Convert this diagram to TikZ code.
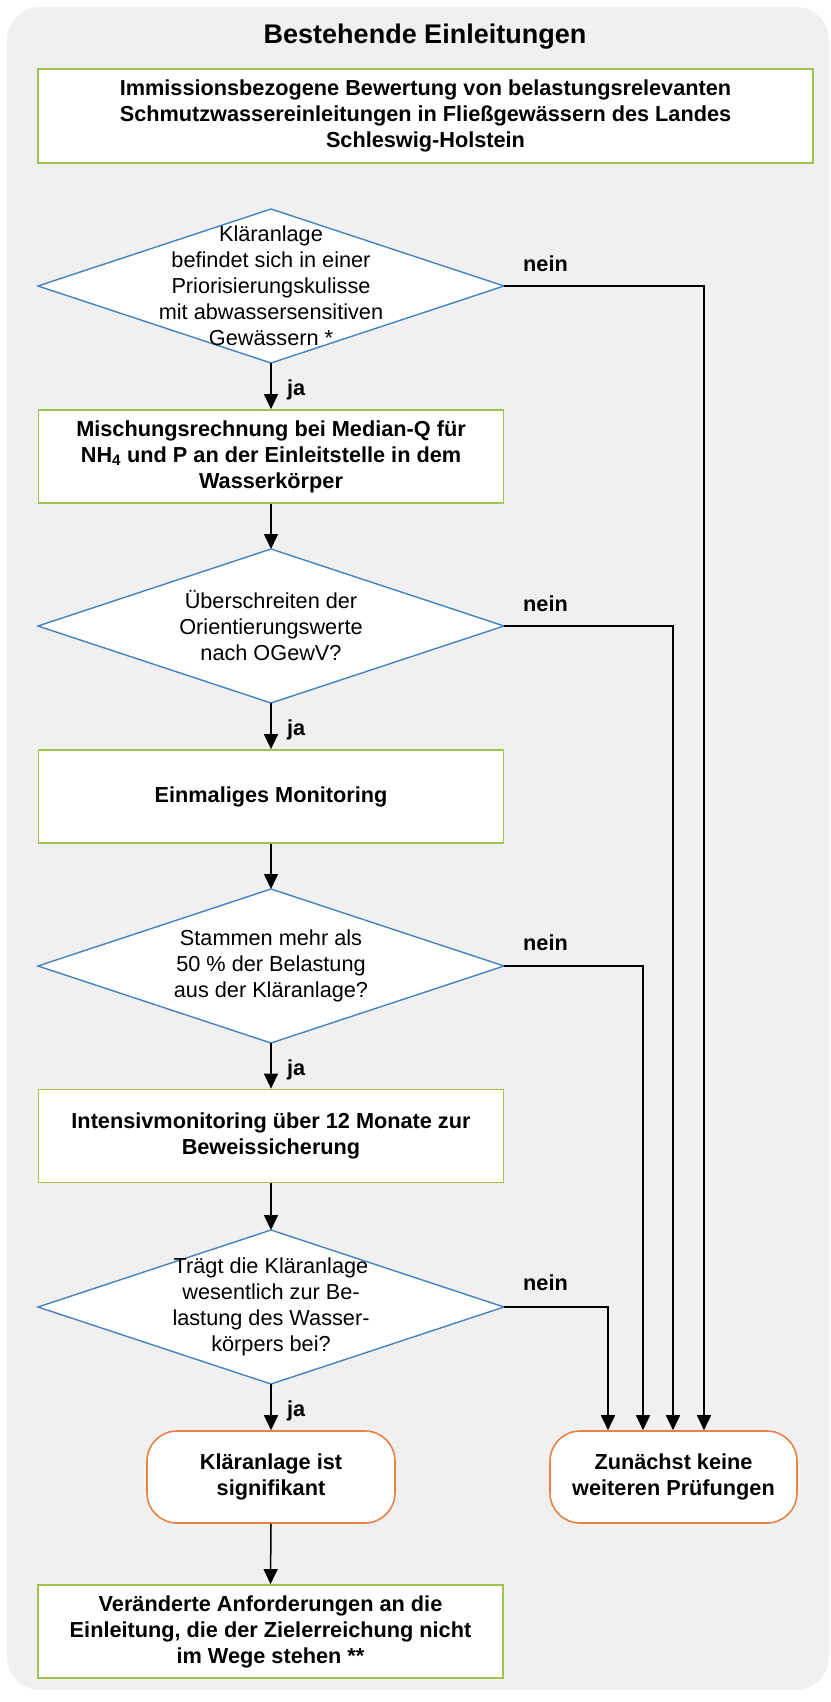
\documentclass[tikz,border=0pt]{standalone}
\usepackage{fontspec}
\setmainfont{Liberation Sans}
\usetikzlibrary{shapes.geometric,arrows.meta,calc}
\definecolor{bggray}{RGB}{240,240,240}
\definecolor{boxgreen}{RGB}{160,195,80}
\definecolor{diablue}{RGB}{70,130,190}
\definecolor{termorange}{RGB}{230,130,70}
\tikzset{
  txt/.style={font=\fontsize{21.7}{26}\selectfont},
  btxt/.style={font=\bfseries\fontsize{21.7}{26}\selectfont},
  greenbox/.style={draw=boxgreen, line width=1.8pt, fill=white, minimum width=465pt, minimum height=93pt, inner sep=0pt, align=center, btxt},
  dia/.style={diamond, draw=diablue, line width=1.4pt, fill=white, minimum width=466pt, minimum height=154pt, inner sep=0pt, outer sep=0pt},
  diatext/.style={align=center, inner sep=0pt, txt},
  term/.style={rounded corners=30pt, draw=termorange, line width=1.6pt, fill=white, minimum width=248pt, minimum height=92pt, inner sep=0pt, align=center, btxt},
  arr/.style={-{Triangle[length=15pt,width=14pt]}, line width=1.5pt, draw=black},
  lbl/.style={anchor=base west, inner sep=0pt, btxt}
}
\begin{document}
\begin{tikzpicture}[x=1pt,y=-1pt]
\useasboundingbox (0,0) rectangle (830,1702);
\fill[bggray, rounded corners=33pt] (7,7) rectangle (829,1690);

\node[anchor=base, inner sep=0pt, font=\bfseries\fontsize{27}{32}\selectfont] (title) at (425,44) {Bestehende Einleitungen};

\node[greenbox, minimum width=775pt, minimum height=94pt] (b1) at (425.5,116) {Immissionsbezogene Bewertung von belastungsrelevanten\\Schmutzwassereinleitungen in Fließgewässern des Landes\\Schleswig-Holstein};

\node[dia] (d1) at (271,286) {};
\node[diatext] (d1t) at (271,286) {Kläranlage\\befindet sich in einer\\Priorisierungskulisse\\mit abwassersensitiven\\Gewässern *};

\node[greenbox] (b2) at (271,456.5) {Mischungsrechnung bei Median-Q für\\NH\textsubscript{4} und P an der Einleitstelle in dem\\Wasserkörper};

\node[dia] (d2) at (271,626) {};
\node[diatext] (d2t) at (271,626) {Überschreiten der\\Orientierungswerte\\nach OGewV?};

\node[greenbox] (b3) at (271,796.5) {Einmaliges Monitoring};

\node[dia] (d3) at (271,966) {};
\node[diatext] (d3t) at (271,966) {Stammen mehr als\\50 \% der Belastung\\aus der Kläranlage?};

\node[greenbox] (b4) at (271,1136) {Intensivmonitoring über 12 Monate zur\\Beweissicherung};

\node[dia] (d4) at (271,1307) {};
\node[diatext] (d4t) at (271,1307) {Trägt die Kläranlage\\wesentlich zur Be-\\lastung des Wasser-\\körpers bei?};

\node[term] (t1) at (271,1477) {Kläranlage ist\\signifikant};
\node[term, minimum width=247pt] (t2) at (673.5,1477) {Zunächst keine\\weiteren Prüfungen};

\node[greenbox] (b5) at (270.5,1631.5) {Veränderte Anforderungen an die\\Einleitung, die der Zielerreichung nicht\\im Wege stehen **};

% main flow
\draw[arr] (d1.south) -- (b2.north);
\draw[arr] (b2.south) -- (d2.north);
\draw[arr] (d2.south) -- (b3.north);
\draw[arr] (b3.south) -- (d3.north);
\draw[arr] (d3.south) -- (b4.north);
\draw[arr] (b4.south) -- (d4.north);
\draw[arr] (d4.south) -- (t1.north);
\draw[arr] (t1.south) -- (b5.north);

% nein branches
\draw[arr] (d1.east) -| ([xshift=30.5pt]t2.north);
\draw[arr] (d2.east) -| ([xshift=-0.5pt]t2.north);
\draw[arr] (d3.east) -| ([xshift=-30.5pt]t2.north);
\draw[arr] (d4.east) -| ([xshift=-65.5pt]t2.north);

% labels
\node[lbl] (ja1) at (287,395) {ja};
\node[lbl] (ja2) at (287,735) {ja};
\node[lbl] (ja3) at (287,1075) {ja};
\node[lbl] (ja4) at (287,1416) {ja};
\node[lbl] (nein1) at (523,271) {nein};
\node[lbl] (nein2) at (523,611) {nein};
\node[lbl] (nein3) at (523,950) {nein};
\node[lbl] (nein4) at (523,1290) {nein};
\end{tikzpicture}
\end{document}
